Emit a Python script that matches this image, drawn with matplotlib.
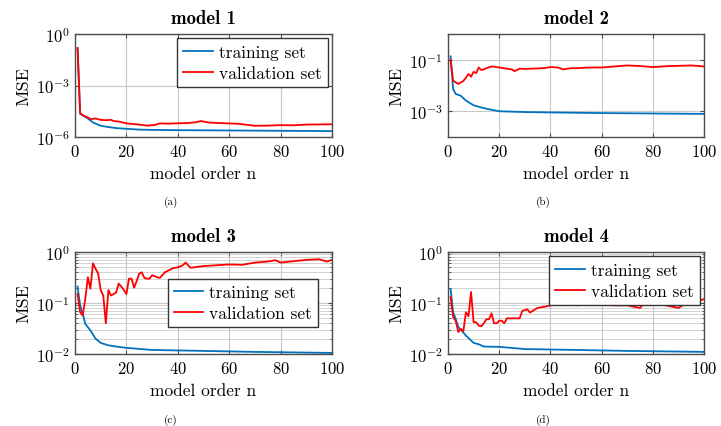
import numpy as np
import matplotlib
matplotlib.use('Agg')
import matplotlib.pyplot as plt
from matplotlib.ticker import LogLocator, NullFormatter, FixedLocator

plt.rcParams.update({
    'font.family': 'cmr10',
    'mathtext.fontset': 'cm',
    'axes.formatter.use_mathtext': True,
    'axes.unicode_minus': False,
    'font.size': 12,
    'axes.linewidth': 1.0,
    'axes.edgecolor': '#4d4d4d',
    'xtick.direction': 'in',
    'ytick.direction': 'in',
    'xtick.top': True,
    'ytick.right': True,
    'xtick.color': '#4d4d4d',
    'ytick.color': '#4d4d4d',
    'xtick.labelcolor': 'black',
    'ytick.labelcolor': 'black',
})

BLUE = '#0072bd'
RED = '#ff0000'

# model 1
m1_n_train = [1, 2, 3, 5, 7, 10, 13, 16, 20, 25, 30, 40, 60, 80, 100]
m1_train = [0.15, 2.2e-5, 1.9e-5, 1.2e-5, 7e-6, 4.5e-6, 3.8e-6, 3.3e-6, 3.0e-6, 2.7e-6,
            2.6e-6, 2.5e-6, 2.4e-6, 2.3e-6, 2.2e-6]
m1_n_val = [1, 2, 3, 5, 6, 8, 10, 12, 14, 15, 17, 20, 24, 28, 31, 33, 36, 40, 44, 47,
            49, 52, 56, 60, 64, 70, 75, 80, 85, 90, 95, 100]
m1_val = [0.15, 2.5e-5, 1.8e-5, 1.4e-5, 1.1e-5, 1.2e-5, 1.0e-5, 9.5e-6, 1.0e-5, 8.5e-6,
          8e-6, 6.2e-6, 5.5e-6, 4.6e-6, 5.0e-6, 6.2e-6, 6.0e-6, 6.3e-6, 6.5e-6, 7.2e-6,
          8.5e-6, 7.0e-6, 6.5e-6, 6.2e-6, 5.8e-6, 4.5e-6, 4.6e-6, 4.9e-6, 4.8e-6, 5.3e-6,
          5.4e-6, 5.5e-6]

# model 2
m2_n_train = [1, 2, 3, 5, 7, 10, 13, 15, 20, 30, 40, 60, 80, 100]
m2_train = [0.135, 7.3e-3, 4.7e-3, 4.0e-3, 2.6e-3, 1.7e-3, 1.4e-3, 1.25e-3, 1.0e-3,
            9.3e-4, 9.0e-4, 8.5e-4, 8.2e-4, 7.9e-4]
m2_n_val = [1, 2, 4, 6, 7, 8, 9, 10, 11, 12, 13, 14, 15, 17, 20, 23, 25, 26, 28, 30,
            35, 38, 40, 43, 45, 48, 50, 55, 60, 65, 70, 75, 80, 85, 90, 95, 100]
m2_val = [0.1, 0.0154, 0.0115, 0.015, 0.02, 0.028, 0.022, 0.034, 0.03, 0.05, 0.04, 0.042,
          0.047, 0.055, 0.05, 0.045, 0.042, 0.036, 0.045, 0.044, 0.046, 0.048, 0.052,
          0.05, 0.042, 0.047, 0.047, 0.05, 0.05, 0.055, 0.06, 0.057, 0.052, 0.056, 0.058,
          0.06, 0.055]

# model 3
m3_n_train = [1, 2, 3, 4, 6, 8, 10, 13, 16, 20, 30, 50, 70, 100]
m3_train = [0.21, 0.09, 0.062, 0.039, 0.029, 0.02, 0.0165, 0.0148, 0.014, 0.0132,
            0.012, 0.0115, 0.011, 0.0105]
m3_n_val = list(range(1, 31)) + [32, 33, 35, 38, 40, 42, 43, 45, 50, 55, 60, 65, 70,
                                 75, 78, 80, 85, 90, 95, 98, 100]
m3_val = [0.15, 0.066, 0.057, 0.12, 0.32, 0.19, 0.6, 0.47, 0.38, 0.18, 0.14, 0.04,
          0.18, 0.14, 0.15, 0.16, 0.24, 0.21, 0.18, 0.15, 0.3, 0.3, 0.2, 0.27, 0.38,
          0.4, 0.31, 0.3, 0.3, 0.35, 0.32, 0.31, 0.4, 0.48, 0.5, 0.55, 0.62, 0.49,
          0.53, 0.55, 0.57, 0.56, 0.62, 0.65, 0.69, 0.62, 0.66, 0.7, 0.72, 0.65, 0.7]

# model 4
m4_n_train = [1, 2, 3, 4, 5, 7, 10, 12, 14, 20, 30, 50, 70, 100]
m4_train = [0.19, 0.066, 0.049, 0.034, 0.03, 0.023, 0.0165, 0.0155, 0.014, 0.0138,
            0.0125, 0.012, 0.0115, 0.011]
m4_n_val = list(range(1, 27)) + [28, 29, 31, 32, 35, 38, 40, 42, 45, 48, 50, 55, 60,
                                 65, 70, 75, 77, 80, 85, 90, 93, 96, 100]
m4_val = [0.13, 0.053, 0.045, 0.027, 0.031, 0.028, 0.066, 0.055, 0.165, 0.042, 0.042,
          0.036, 0.035, 0.04, 0.048, 0.048, 0.063, 0.04, 0.04, 0.045, 0.045, 0.04,
          0.05, 0.05, 0.05, 0.05, 0.05, 0.07, 0.075, 0.065, 0.08, 0.085, 0.09, 0.1,
          0.09, 0.1, 0.09, 0.095, 0.092, 0.09, 0.09, 0.08, 0.105, 0.095, 0.09, 0.08,
          0.1, 0.1, 0.12]

panels = [
    ('model 1', '(a)', m1_n_train, m1_train, m1_n_val, m1_val, (1e-6, 1e0)),
    ('model 2', '(b)', m2_n_train, m2_train, m2_n_val, m2_val, (1e-4, 1e0)),
    ('model 3', '(c)', m3_n_train, m3_train, m3_n_val, m3_val, (1e-2, 1e0)),
    ('model 4', '(d)', m4_n_train, m4_train, m4_n_val, m4_val, (1e-2, 1e0)),
]

W, H = 721, 427
fig = plt.figure(figsize=(W / 100, H / 100), dpi=100)

# axes boxes in pixels: left, top, right, bottom
boxes = [(75, 35, 332, 138), (448, 35, 704, 138),
         (75, 253, 332, 355), (448, 253, 704, 355)]

leg_kw = dict(fontsize=12.5, fancybox=False, edgecolor='#333333', framealpha=1,
              handlelength=1.7, borderpad=0.35, labelspacing=0.35, handletextpad=0.35)

for k, (title, tag, nt, yt, nv, yv, ylim) in enumerate(panels):
    l, t, r, b = boxes[k]
    ax = fig.add_axes([l / W, 1 - b / H, (r - l) / W, (b - t) / H])
    ax.plot(nt, yt, color=BLUE, lw=1.3, label='training set')
    ax.plot(nv, yv, color=RED, lw=1.3, label='validation set')
    ax.set_yscale('log')
    ax.set_xlim(0, 100)
    ax.set_ylim(*ylim)
    ax.set_xticks([0, 20, 40, 60, 80, 100])

    if k == 0:
        ax.yaxis.set_major_locator(FixedLocator([1e-6, 1e-3, 1e0]))
        ax.yaxis.set_minor_locator(FixedLocator([]))
    elif k == 1:
        ax.yaxis.set_major_locator(FixedLocator([1e-3, 1e-1]))
        ax.yaxis.set_minor_locator(FixedLocator([]))
    else:
        ax.yaxis.set_major_locator(LogLocator(base=10, numticks=5))
        ax.yaxis.set_minor_locator(LogLocator(base=10, subs=np.arange(2, 10), numticks=20))
        ax.yaxis.set_minor_formatter(NullFormatter())
        ax.grid(True, which='minor', axis='y', color='#cccccc', lw=0.6)

    ax.grid(True, which='major', color='#c8c8c8', lw=0.8)
    ax.set_axisbelow(True)
    ax.tick_params(which='major', length=3, labelsize=12, pad=4)
    ax.tick_params(which='minor', length=1.8)

    ax.set_xlabel('model order n', fontsize=12.5, labelpad=5)
    ax.set_ylabel('MSE', fontsize=13, labelpad=3)
    ax.set_title(title, fontfamily='cmb10', fontsize=13.5, pad=8)

    if k == 0:
        ax.legend(loc='upper right', borderaxespad=0.25, **leg_kw)
    elif k == 2:
        ax.legend(loc='center right', bbox_to_anchor=(0.946, 0.5), borderaxespad=0,
                  **leg_kw)
    elif k == 3:
        ax.legend(loc='upper right', borderaxespad=0.25, **leg_kw)

    cy = 202 if k < 2 else 420
    fig.text((l + r) / 2 / W - 0.045, 1 - cy / H, tag, fontsize=8, ha='center', va='center')

fig.savefig('out.png', dpi=100)
